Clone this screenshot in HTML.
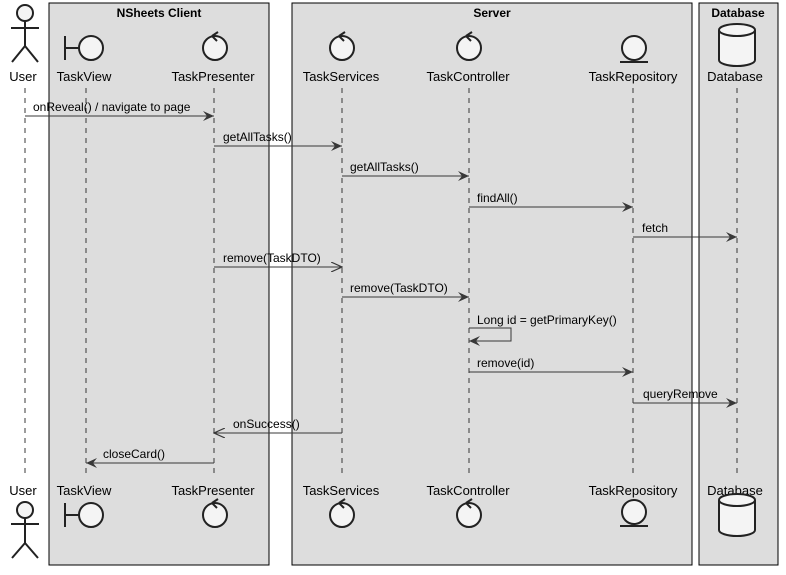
<!DOCTYPE html>
<html><head><meta charset="utf-8"><style>
html,body{margin:0;padding:0;background:#fff;}
svg{display:block;font-family:"Liberation Sans",sans-serif;}
</style></head><body>
<svg width="786" height="575" viewBox="0 0 786 575" xmlns="http://www.w3.org/2000/svg">
<defs>
<marker id="f" markerWidth="12" markerHeight="10" refX="11" refY="5" orient="auto" markerUnits="userSpaceOnUse"><path d="M0,0 L11,5 L0,10 L4,5 Z" fill="#383838"/></marker>
<marker id="o" markerWidth="12" markerHeight="10" refX="11" refY="5" orient="auto" markerUnits="userSpaceOnUse"><path d="M0,0 L11,5 L0,10" fill="none" stroke="#383838" stroke-width="1.2"/></marker>
</defs>
<g fill="#dddddd" stroke="#000" stroke-width="1">
<rect x="49" y="3" width="220" height="562"/>
<rect x="292" y="3" width="400" height="562"/>
<rect x="699" y="3" width="79" height="562"/>
</g>
<g font-weight="bold" font-size="12" text-anchor="middle" fill="#000">
<text x="159" y="17">NSheets Client</text>
<text x="492" y="17">Server</text>
<text x="738" y="17">Database</text>
</g>
<g stroke="#383838" stroke-dasharray="5,5" stroke-width="1">
<line x1="25" y1="88" x2="25" y2="478"/>
<line x1="86" y1="88" x2="86" y2="478"/>
<line x1="214" y1="88" x2="214" y2="478"/>
<line x1="342" y1="88" x2="342" y2="478"/>
<line x1="469" y1="88" x2="469" y2="478"/>
<line x1="633" y1="88" x2="633" y2="478"/>
<line x1="737" y1="88" x2="737" y2="478"/>
</g>
<g font-size="13" text-anchor="middle" fill="#000">
<text x="23" y="81">User</text><text x="84" y="81">TaskView</text><text x="213" y="81">TaskPresenter</text>
<text x="341" y="81">TaskServices</text><text x="468" y="81">TaskController</text><text x="633" y="81">TaskRepository</text><text x="735" y="81">Database</text>
<text x="23" y="495">User</text><text x="84" y="495">TaskView</text><text x="213" y="495">TaskPresenter</text>
<text x="341" y="495">TaskServices</text><text x="468" y="495">TaskController</text><text x="633" y="495">TaskRepository</text><text x="735" y="495">Database</text>
</g>
<g stroke="#222" stroke-width="2" fill="#f4f4f4">
<circle cx="25" cy="13" r="8"/><path d="M25,21 V46 M11,28 H39 M25,46 L12,62 M25,46 L38,62" fill="none"/>
<circle cx="25" cy="510" r="8"/><path d="M25,518 V543 M11,524 H39 M25,543 L12,558 M25,543 L38,558" fill="none"/>
<path d="M65,36 V60 M65,48 H79" fill="none"/><circle cx="91" cy="48" r="12"/>
<path d="M65,503 V527 M65,515 H79" fill="none"/><circle cx="91" cy="515" r="12"/>
<circle cx="215" cy="48" r="12"/><path d="M212,36 L218,32 M212,36 L217,41" fill="none"/>
<circle cx="215" cy="515" r="12"/><path d="M212,503 L218,499 M212,503 L217,508" fill="none"/>
<circle cx="342" cy="48" r="12"/><path d="M339,36 L345,32 M339,36 L344,41" fill="none"/>
<circle cx="342" cy="515" r="12"/><path d="M339,503 L345,499 M339,503 L344,508" fill="none"/>
<circle cx="469" cy="48" r="12"/><path d="M466,36 L472,32 M466,36 L471,41" fill="none"/>
<circle cx="469" cy="515" r="12"/><path d="M466,503 L472,499 M466,503 L471,508" fill="none"/>
<circle cx="634" cy="48" r="12"/><path d="M620,62 H648" fill="none"/>
<circle cx="634" cy="512" r="12"/><path d="M620,526 H648" fill="none"/>
<path d="M719,30 V60 A18,6 0 0 0 755,60 V30" /><ellipse cx="737" cy="30" rx="18" ry="6"/>
<path d="M719,500 V530 A18,6 0 0 0 755,530 V500" /><ellipse cx="737" cy="500" rx="18" ry="6"/>
</g>
<g stroke="#383838" stroke-width="1" fill="none">
<line x1="25" y1="116" x2="214" y2="116" marker-end="url(#f)"/>
<line x1="214" y1="146" x2="342" y2="146" marker-end="url(#f)"/>
<line x1="342" y1="176" x2="469" y2="176" marker-end="url(#f)"/>
<line x1="469" y1="207" x2="633" y2="207" marker-end="url(#f)"/>
<line x1="633" y1="237" x2="737" y2="237" marker-end="url(#f)"/>
<line x1="214" y1="267" x2="342" y2="267" marker-end="url(#o)"/>
<line x1="342" y1="297" x2="469" y2="297" marker-end="url(#f)"/>
<path d="M469,328 H511 V341 H469" marker-end="url(#f)"/>
<line x1="469" y1="372" x2="633" y2="372" marker-end="url(#f)"/>
<line x1="633" y1="403" x2="737" y2="403" marker-end="url(#f)"/>
<line x1="342" y1="433" x2="214" y2="433" marker-end="url(#o)"/>
<line x1="214" y1="463" x2="86" y2="463" marker-end="url(#f)"/>
</g>
<g font-size="12" fill="#000">
<text x="33" y="111">onReveal() / navigate to page</text>
<text x="223" y="141">getAllTasks()</text>
<text x="350" y="171">getAllTasks()</text>
<text x="477" y="202">findAll()</text>
<text x="642" y="232">fetch</text>
<text x="223" y="262">remove(TaskDTO)</text>
<text x="350" y="292">remove(TaskDTO)</text>
<text x="477" y="324">Long id = getPrimaryKey()</text>
<text x="477" y="367">remove(id)</text>
<text x="643" y="398">queryRemove</text>
<text x="233" y="428">onSuccess()</text>
<text x="103" y="458">closeCard()</text>
</g>
</svg>
</body></html>
